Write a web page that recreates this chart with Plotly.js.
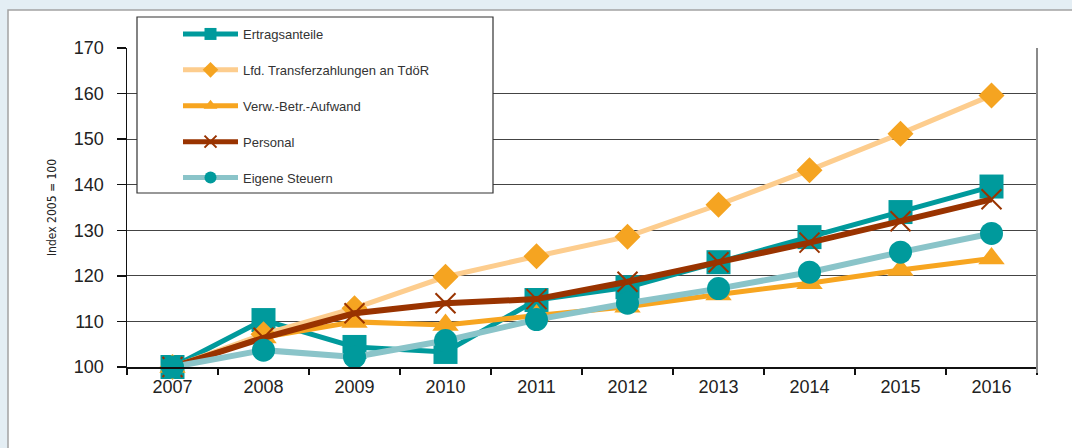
<!DOCTYPE html>
<html>
<head>
<meta charset="utf-8">
<script src="https://cdn.plot.ly/plotly-3.0.1.min.js"></script>
<style>
  html, body { margin: 0; padding: 0; background: #e4eef4; }
  #chart { width: 1072px; height: 448px; }
</style>
</head>
<body>
<div id="chart"></div>
<script>
// ---- data ----
const years = ['2007', '2008', '2009', '2010', '2011', '2012', '2013', '2014', '2015', '2016'];
const seriesNames = ['Ertragsanteile', 'Lfd. Transferzahlungen an TdöR', 'Verw.-Betr.-Aufwand', 'Personal', 'Eigene Steuern'];
const ertragsanteile = [100, 110.3, 104.4, 103.3, 114.7, 117.5, 123.0, 128.5, 134.0, 139.6];
const transferzahlungen = [100, 107.2, 112.9, 119.8, 124.3, 128.6, 135.6, 143.2, 151.2, 159.6];
const verwBetrAufwand = [100, 106.5, 109.9, 109.2, 111.3, 113.2, 115.9, 118.4, 121.3, 123.8];
const personal = [100, 106.4, 111.8, 114.0, 114.9, 118.7, 123.0, 127.3, 132.0, 136.8];
const eigeneSteuern = [100, 103.7, 102.2, 105.8, 110.4, 114.0, 117.2, 120.8, 125.2, 129.3];
const yTicks = [100, 110, 120, 130, 140, 150, 160, 170];

const traces = [
  { y: ertragsanteile, name: seriesNames[0], line: { color: '#009a9c', width: 5 },
    marker: { symbol: 'square', size: 24, color: '#009a9c' } },
  { y: transferzahlungen, name: seriesNames[1], line: { color: '#fdcd8e', width: 5 },
    marker: { symbol: 'diamond', size: 20, color: '#f5a421' } },
  { y: verwBetrAufwand, name: seriesNames[2], line: { color: '#f7a520', width: 5 },
    marker: { symbol: 'triangle-up', size: 23, color: '#f7a520' } },
  { y: personal, name: seriesNames[3], line: { color: '#993300', width: 6 },
    marker: { symbol: 'x-thin-open', size: 20, color: '#993300', line: { color: '#993300', width: 2 } } },
  { y: eigeneSteuern, name: seriesNames[4], line: { color: '#8ac4c9', width: 6 },
    marker: { symbol: 'circle', size: 23, color: '#009a9c' } }
].map((t, i) => Object.assign({
  type: 'scatter', mode: 'lines+markers', x: years, cliponaxis: false,
  legendgroup: 'g' + i, hoverinfo: 'x+y+name'
}, t));

const L = 127, R = 35, T = 48, B = 81, W = 1072, H = 448;
const pw = W - L - R, ph = H - T - B;
const px = v => (v - L) / pw;
const py = v => (H - B - v) / ph;

const layout = {
  width: W, height: H,
  margin: { l: L, r: R, t: T, b: B, pad: 0 },
  paper_bgcolor: '#e4eef4',
  plot_bgcolor: 'rgba(0,0,0,0)',
  font: { family: 'Liberation Sans, Arial, sans-serif', color: '#222' },
  showlegend: true,
  legend: {
    x: px(178), y: py(19), xanchor: 'left', yanchor: 'top',
    bgcolor: 'rgba(0,0,0,0)', borderwidth: 0, itemwidth: 55,
    font: { size: 13, color: '#333', family: 'Liberation Sans, Arial, sans-serif' },
    traceorder: 'grouped', tracegroupgap: 16, itemsizing: 'constant'
  },
  xaxis: {
    type: 'category', range: [-0.5, 9.5], fixedrange: true,
    showgrid: false, zeroline: false,
    showline: true, linecolor: '#111', linewidth: 1.5,
    ticks: 'outside', tickson: 'boundaries', ticklen: 6, tickcolor: '#111', tickwidth: 1.5,
    ticklabelstandoff: 3,
    tickfont: { size: 18, color: '#222' }
  },
  yaxis: {
    range: [100, 170], tickvals: yTicks, fixedrange: true,
    showgrid: true, gridcolor: '#444', gridwidth: 1, zeroline: false,
    showline: true, linecolor: '#111', linewidth: 1.5,
    ticks: 'outside', ticklen: 9, tickcolor: '#111', tickwidth: 1.5,
    ticklabelstandoff: 9,
    tickfont: { size: 18, color: '#222' },
    title: { text: 'Index 2005 = 100', standoff: 14,
      font: { size: 12, color: '#222', family: 'Liberation Sans Narrow, DejaVu Sans Condensed, Arial Narrow, sans-serif' } }
  },
  shapes: [
    // white panel behind the chart
    { type: 'rect', xref: 'paper', yref: 'paper', layer: 'below',
      x0: px(8), x1: px(1100), y0: py(470), y1: py(10),
      fillcolor: '#ffffff', line: { color: '#a3a3a3', width: 1.5 } },
    // right frame line of the plot area
    { type: 'line', xref: 'paper', yref: 'paper', layer: 'above',
      x0: 1, x1: 1, y0: py(373), y1: 1, line: { color: '#8a8a8a', width: 2 } },
    // legend box
    { type: 'rect', xref: 'paper', yref: 'paper', layer: 'above',
      x0: px(137), x1: px(493), y0: py(193), y1: py(17),
      fillcolor: '#ffffff', line: { color: '#333', width: 1.2 } }
  ]
};

Plotly.newPlot('chart', traces, layout, { displayModeBar: false, staticPlot: true });
</script>
</body>
</html>
